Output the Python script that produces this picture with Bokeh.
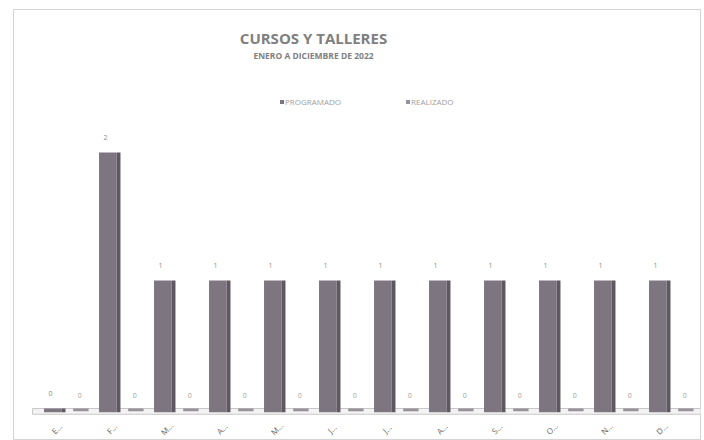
import math
from bokeh.plotting import figure
from bokeh.models import Range1d, ColumnDataSource, Label, Legend, LegendItem
from bokeh.core.properties import value
from bokeh.embed import file_html
from bokeh.resources import INLINE

# ---- data ----
meses = ["E...", "F...", "M...", "A...", "M...", "J...", "J...", "A...", "S...", "O...", "N...", "D..."]
programado = [0, 2, 1, 1, 1, 1, 1, 1, 1, 1, 1, 1]
realizado = [0, 0, 0, 0, 0, 0, 0, 0, 0, 0, 0, 0]
titulo = "CURSOS Y TALLERES"
subtitulo = "ENERO A DICIEMBRE DE 2022"
series = ["PROGRAMADO", "REALIZADO"]

FONT = "Open Sans"
n = len(meses)
idx = list(range(n))

p = figure(width=704, height=440, output_backend="svg", toolbar_location=None,
           x_range=Range1d(-0.745, n - 0.254), y_range=Range1d(-0.25, 3.117),
           min_border_left=13, min_border_right=4, min_border_top=9, min_border_bottom=0)
p.xaxis.visible = False
p.yaxis.visible = False
p.xgrid.visible = False
p.ygrid.visible = False
p.outline_line_color = "#d4d4d4"
p.outline_line_width = 1
p.background_fill_color = "#ffffff"
p.border_fill_color = "#ffffff"

# floor slab
p.quad(left=[-0.40], right=[n - 0.12], top=[0.0], bottom=[-0.045],
       fill_color="#f3f3f3", line_color="#c8c8c8", line_width=1)

PROG = "#7d7580"
PROG_SIDE = "#5f5863"
REAL = "#8e8890"
off_r = 0.48

src_p = ColumnDataSource(dict(x=[i - 0.03 for i in idx], xs=[i + 0.165 for i in idx],
                              top=programado, lab=[str(v) for v in programado],
                              lx=[i - 0.07 for i in idx], ly=[v + 0.12 for v in programado]))
src_r = ColumnDataSource(dict(x=[i + off_r for i in idx], top=realizado,
                              lab=[str(v) for v in realizado],
                              lx=[i + off_r - 0.02 for i in idx], ly=[v + 0.1 for v in realizado]))

r_prog = p.vbar(x="x", width=0.32, top="top", bottom=-0.03, source=src_p,
                fill_color=PROG, line_color=None)
p.vbar(x="xs", width=0.07, top="top", bottom=-0.03, source=src_p,
       fill_color=PROG_SIDE, line_color=None)
r_real = p.vbar(x="x", width=0.28, top="top", bottom=-0.022, source=src_r,
                fill_color=REAL, line_color=None, fill_alpha=0.9)

# data labels
p.text(x="lx", y="ly", text="lab", source=src_p, text_font=value(FONT), text_font_size="7px",
       text_color="#8a8a8a", text_align="center", text_baseline="middle")
p.text(x="lx", y="ly", text="lab", source=src_r, text_font=value(FONT), text_font_size="7px",
       text_color="#a0a0a0", text_align="center", text_baseline="middle")

# category labels
p.text(x=[i + 0.04 for i in idx], y=[-0.156] * n, text=meses, angle=math.pi / 4,
       text_font=value(FONT), text_font_size="8px", text_color="#666666",
       text_align="center", text_baseline="middle")

# title
p.add_layout(Label(x=300, y=403, x_units="screen", y_units="screen", text=titulo,
                   text_font=FONT, text_font_size="15px", text_font_style="bold",
                   text_color="#808080", text_align="center", text_baseline="middle"))
p.add_layout(Label(x=300, y=385, x_units="screen", y_units="screen", text=subtitulo,
                   text_font=FONT, text_font_size="8.5px", text_font_style="bold",
                   text_color="#808080", text_align="center", text_baseline="middle"))

legend = Legend(items=[LegendItem(label=series[0], renderers=[r_prog]),
                       LegendItem(label=series[1], renderers=[r_real])],
                orientation="horizontal", location=(266, 333), spacing=64,
                glyph_width=5, glyph_height=5, label_text_font=FONT,
                label_text_font_size="8px", label_text_color="#a0a0a0",
                label_standoff=1, padding=0, margin=0, border_line_color=None,
                background_fill_alpha=0)
p.add_layout(legend)

open("out.html", "w").write(file_html(p, INLINE))
